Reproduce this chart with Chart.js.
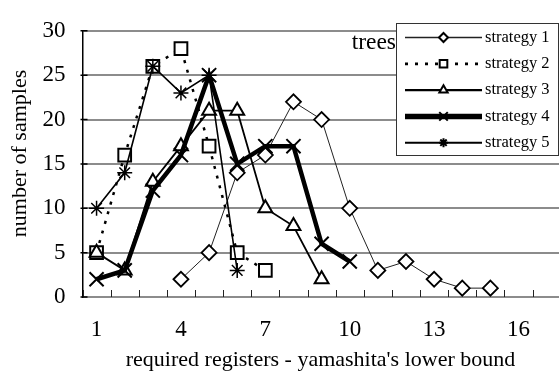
<!DOCTYPE html>
<html>
<head>
<meta charset="utf-8">
<script src="https://cdn.jsdelivr.net/npm/chart.js@4/dist/chart.umd.min.js"></script>
<style>
  html, body { margin: 0; padding: 0; background: #fff; overflow: hidden; }
  #wrap { width: 559px; height: 378px; overflow: hidden; }
</style>
</head>
<body>
<div id="wrap"><canvas id="chart" width="562" height="378"></canvas></div>
<script>
const SERIF = '"Liberation Serif", "Times New Roman", serif';

// registers above the lower bound (1..17)
const REGISTERS = ['1', '2', '3', '4', '5', '6', '7', '8', '9', '10', '11', '12', '13', '14', '15', '16', '17'];

const STRATEGY_1 = [null, null, null, 2, 5, 14, 16, 22, 20, 10, 3, 4, 2, 1, 1, null, null];
const STRATEGY_2 = [5, 16, 26, 28, 17, 5, 3, null, null, null, null, null, null, null, null, null, null];
const STRATEGY_3 = [5, 3, 13, 17, 21, 21, 10, 8, 2, null, null, null, null, null, null, null, null];
const STRATEGY_4 = [2, 3, 12, 16, 25, 15, 17, 17, 6, 4, null, null, null, null, null, null, null];
const STRATEGY_5 = [10, 14, 26, 23, 25, 3, null, null, null, null, null, null, null, null, null, null, null];

const SERIES_NAMES = ['strategy 1', 'strategy 2', 'strategy 3', 'strategy 4', 'strategy 5'];
const Y_MAX = 30;
const Y_STEP = 5;

function makeDataset(label, data, style) {
  return {
    label,
    data,
    borderColor: style.lineColor || '#000',
    borderWidth: style.lineWidth,
    borderDash: style.dash || [],
    pointStyle: style.point,
    pointRadius: style.radius,
    pointBorderWidth: style.pointWidth,
    pointBorderColor: '#000',
    pointBackgroundColor: '#fff',
    tension: 0,
    spanGaps: false,
    order: style.order,
  };
}

const datasets = [
  makeDataset(SERIES_NAMES[0], STRATEGY_1, { lineWidth: 1, lineColor: '#222', point: 'rectRot', radius: 7.5, pointWidth: 1.8, order: 4 }),
  makeDataset(SERIES_NAMES[1], STRATEGY_2, { lineWidth: 2.5, dash: [3, 7], point: 'rect', radius: 9, pointWidth: 2, order: 3 }),
  makeDataset(SERIES_NAMES[2], STRATEGY_3, { lineWidth: 1.8, point: 'triangle', radius: 8, pointWidth: 2, order: 2 }),
  makeDataset(SERIES_NAMES[3], STRATEGY_4, { lineWidth: 4.5, point: 'crossRot', radius: 10, pointWidth: 2, order: 1 }),
  makeDataset(SERIES_NAMES[4], STRATEGY_5, { lineWidth: 1.6, point: 'star', radius: 7.5, pointWidth: 1.5, order: 0 }),
];

// inward tick marks on both axes
const axisMarks = {
  id: 'axisMarks',
  beforeDatasetsDraw(chart) {
    const { ctx, chartArea, scales: { x, y } } = chart;
    const step = x.width / REGISTERS.length;
    ctx.save();
    ctx.strokeStyle = '#222';
    ctx.lineWidth = 1;
    ctx.beginPath();
    for (let k = 0; k <= REGISTERS.length; k++) {
      const px = Math.round(x.left + k * step) + 0.5;
      ctx.moveTo(px, chartArea.bottom);
      ctx.lineTo(px, chartArea.bottom - 7);
    }
    ctx.stroke();
    ctx.strokeStyle = '#000';
    ctx.lineWidth = 1.5;
    ctx.beginPath();
    y.ticks.forEach((t) => {
      const py = y.getPixelForValue(t.value);
      ctx.moveTo(chartArea.left - 2, py);
      ctx.lineTo(chartArea.left + 5, py);
    });
    ctx.stroke();
    ctx.restore();
  },
};

// axis titles and the "trees" caption
const captions = {
  id: 'captions',
  afterDraw(chart) {
    const { ctx } = chart;
    ctx.save();
    ctx.fillStyle = '#000';
    ctx.font = `22px ${SERIF}`;
    ctx.textBaseline = 'middle';
    ctx.textAlign = 'center';
    ctx.fillText("required registers - yamashita's lower bound", 320.5, 360);
    ctx.translate(20, 153.5);
    ctx.rotate(-Math.PI / 2);
    ctx.fillText('number of samples', 0, 0);
    ctx.restore();

    ctx.save();
    ctx.fillStyle = '#000';
    ctx.font = `23.5px ${SERIF}`;
    ctx.textBaseline = 'middle';
    ctx.textAlign = 'right';
    ctx.fillText('trees', 396, 43);
    ctx.restore();
  },
};

// boxed legend in the top right corner
const boxLegend = {
  id: 'boxLegend',
  afterDraw(chart) {
    const { ctx } = chart;
    const box = { left: 396.5, top: 23.5, right: 558.5, bottom: 155.5 };
    ctx.save();
    ctx.fillStyle = '#fff';
    ctx.fillRect(box.left, box.top, box.right - box.left, box.bottom - box.top);
    ctx.strokeStyle = '#333';
    ctx.lineWidth = 1;
    ctx.strokeRect(box.left, box.top, box.right - box.left, box.bottom - box.top);

    chart.data.datasets.forEach((ds, i) => {
      const rowY = 37.5 + i * 26.3;
      ctx.strokeStyle = ds.borderColor;
      ctx.lineWidth = ds.borderWidth + (i === 3 ? 1 : 0.3);
      ctx.setLineDash(ds.borderDash);
      ctx.beginPath();
      ctx.moveTo(405, rowY);
      ctx.lineTo(482, rowY);
      ctx.stroke();
      ctx.setLineDash([]);

      ctx.fillStyle = '#fff';
      ctx.strokeStyle = '#000';
      ctx.lineWidth = 2;
      Chart.helpers.drawPoint(ctx, {
        pointStyle: ds.pointStyle,
        radius: ds.pointRadius * 0.6,
        borderWidth: 2,
        rotation: 0,
      }, 443.5, rowY);

      ctx.fillStyle = '#000';
      ctx.font = `16.5px ${SERIF}`;
      ctx.textAlign = 'left';
      ctx.textBaseline = 'middle';
      ctx.fillText(ds.label, 485, rowY);
    });
    ctx.restore();
  },
};

new Chart(document.getElementById('chart'), {
  type: 'line',
  data: { labels: REGISTERS, datasets },
  options: {
    responsive: false,
    animation: false,
    devicePixelRatio: 1,
    layout: { autoPadding: false, padding: { top: 23, right: 1.3, bottom: 0, left: 0 } },
    plugins: {
      legend: { display: false },
      tooltip: { enabled: false },
    },
    scales: {
      x: {
        type: 'category',
        offset: true,
        grid: { display: false, drawTicks: false },
        border: { display: false },
        ticks: {
          autoSkip: false,
          maxRotation: 0,
          padding: 19,
          color: '#000',
          font: { family: SERIF, size: 23 },
          callback: (value, index) => (index % 3 === 0 ? REGISTERS[index] : ''),
        },
        afterFit: (scale) => {
          scale.height = 81;
          scale.paddingLeft = 0;
          scale.paddingRight = 0;
        },
      },
      y: {
        min: 0,
        max: Y_MAX,
        ticks: {
          stepSize: Y_STEP,
          padding: 17,
          color: '#000',
          font: { family: SERIF, size: 23 },
        },
        grid: { color: '#8c8c8c', lineWidth: 2, drawTicks: false },
        border: { display: true, color: '#000', width: 1.5 },
        afterFit: (scale) => { scale.width = 82.5; },
      },
    },
  },
  plugins: [axisMarks, captions, boxLegend],
});
</script>
</body>
</html>
